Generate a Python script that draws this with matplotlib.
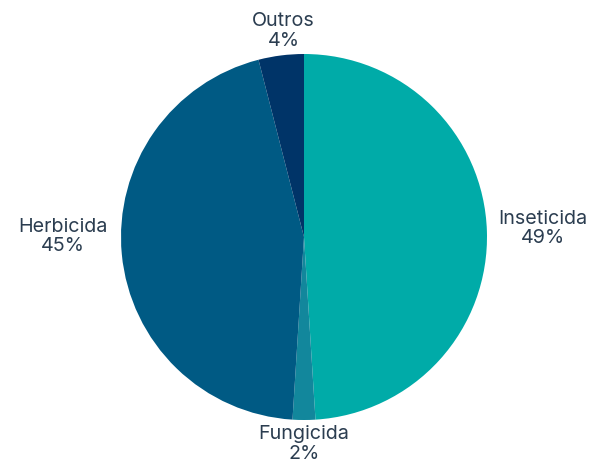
import matplotlib.pyplot as plt

categories = ['Inseticida', 'Fungicida', 'Herbicida', 'Outros']
shares = [49, 2, 45, 4]
colors = ['#00ABA8', '#12879C', '#005A84', '#003468']

# label anchor points in units of the pie radius
label_pos = {
    'Inseticida': (1.306, 0.045),
    'Fungicida': (0.0, -1.131),
    'Herbicida': (-1.320, 0.003),
    'Outros': (-0.112, 1.126),
}

plt.rcParams['font.family'] = ['Inter', 'DejaVu Sans']

fig = plt.figure(figsize=(6.08, 4.66), dpi=100)
ax = fig.add_axes([0, 0, 1, 1])

ax.pie(shares, colors=colors, startangle=90, counterclock=False,
       radius=1.0, center=(0, 0), wedgeprops=dict(linewidth=0))

for name, val in zip(categories, shares):
    x, y = label_pos[name]
    ax.text(x, y, f'{name}\n{val}%', ha='center', va='center',
            multialignment='center', fontsize=14.2, color='#2B3D50',
            linespacing=1.1)

# pie centre at (304, 237) px with a 183 px radius
r = 183.0
ax.set_xlim(-304 / r, (608 - 304) / r)
ax.set_ylim(-(466 - 237) / r, 237 / r)
ax.set_aspect('equal')
ax.axis('off')

fig.savefig('out.png', dpi=100)
